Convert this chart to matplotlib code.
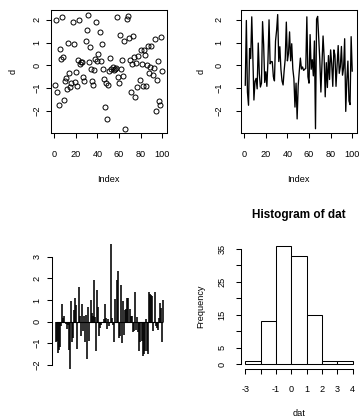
import numpy as np
import matplotlib
matplotlib.use("Agg")
import matplotlib.pyplot as plt

plt.rcParams['font.family'] = ['Liberation Sans', 'DejaVu Sans']

# ---- data ----
d = [-0.87, 1.97, -1.17, -1.75, 0.74, 0.30, 2.13, 0.38, -1.52, -0.70,
     -0.57, -1.03, 0.98, -0.35, -0.95, -0.78, 1.92, 0.92, -0.75, -0.28,
     -0.92, 0.22, 2.00, 0.07, 0.17, 0.16, -0.50, -0.68, 1.07, 1.54,
     2.23, 0.17, 0.82, -0.17, -0.68, -0.86, -0.22, 0.30, 1.90, 0.20,
     0.52, 1.47, 0.20, 0.95, -0.15, -0.58, -1.83, -0.78, -2.35, -0.88,
     -0.25, 0.32, -0.16, -0.07, -0.22, -0.17, -0.13, 2.13, -0.50, -0.78,
     1.35, -0.17, 0.25, -0.46, 1.07, -2.78, 2.03, 2.15, 1.19, 0.22,
     -1.17, 0.07, 1.29, 0.36, -1.38, 0.12, -0.97, 0.43, -0.62, 0.68,
     0.07, -0.92, 0.68, 0.45, -0.92, 0.00, 0.87, -0.35, -0.06, 0.83,
     -0.43, -0.12, 1.17, -2.02, -0.65, 0.19, -1.56, -1.72, 1.26, -0.25]

dat = [-0.95, -0.9, -1.45, -1.3, -1.2, -0.2, 0.8, 0.15, 0.25, -0.1,
       -0.35, -0.15, -1.3, -2.2, 0.95, -0.97, -0.75, 0.55, 1.1, 0.75,
       -1.25, 1.6, 0.25, -0.65, 0.8, -0.45, 0.25, -0.96, 0.3, -1.75,
       0.7, -0.9, 0.98, 0.4, 0.25, 1.95, 0.2, -1.35, 1.45, 0.7,
       -0.65, -0.3, -0.15, -0.05, 0.1, 0.8, 0.15, -0.35, 0.1, -0.2,
       -0.05, 3.6, 0.15, -0.15, -0.95, 1.05, 1.95, 2.35, -0.75, -0.65,
       1.7, -0.98, 0.97, -0.6, 0.55, 0.6, 1.1, 1.1, 0.6, 0.25,
       0.25, -0.5, -0.45, 1.35, -0.4, 0.2, -0.5, -1.35, -0.95, -0.9,
       -1.6, -1.5, -1.35, 0.1, -1.35, -1.5, 1.35, 1.3, 1.25, 1.2,
       -0.45, 1.35, -0.2, -0.3, -0.4, 0.15, 0.85, 0.65, -0.95, 0.98]

idx_ticks = [0, 20, 40, 60, 80, 100]
d_ticks = [-2, -1, 0, 1, 2]
dat_ticks = [-2, -1, 0, 1, 2, 3]
hist_breaks = [-3, -2, -1, 0, 1, 2, 3, 4]
hist_xlabels = ['-3', '', '-1', '0', '1', '2', '3', '4']
freq_ticks = [0, 5, 10, 15, 20, 25, 30, 35]
freq_labels = ['0', '5', '', '15', '', '25', '', '35']

W, H = 359, 418
fig = plt.figure(figsize=(W / 100, H / 100), dpi=100)
FS = 6.6
LW = 0.75


def axes_px(x0, y0, x1, y1):
    return fig.add_axes([x0 / W, 1 - y1 / H, (x1 - x0) / W, (y1 - y0) / H])


def rlim(v):
    lo, hi = min(v), max(v)
    r = hi - lo
    return lo - 0.04 * r, hi + 0.04 * r


def style(ax, ypad, xpad):
    for s in ax.spines.values():
        s.set_linewidth(LW)
    ax.tick_params(length=3.6, width=LW, labelsize=FS, direction='out')
    ax.tick_params(axis='y', labelrotation=90, pad=ypad)
    ax.tick_params(axis='x', pad=xpad)
    for lab in ax.get_yticklabels():
        lab.set_va('center')


n = len(d)
x = np.arange(1, n + 1)
xl = (1 - 0.04 * (n - 1), n + 0.04 * (n - 1))

# Panel 1: scatter
ax1 = axes_px(51, 10, 166.5, 133.3)
ax1.plot(x, d, 'o', mfc='none', mec='black', ms=3.6, mew=0.7)
ax1.set_xlim(*xl)
ax1.set_ylim(*rlim(d))
ax1.set_xticks(idx_ticks)
ax1.set_yticks(d_ticks)
style(ax1, 3.5, 8.5)
ax1.set_xlabel('Index', fontsize=FS, va='center')
ax1.set_ylabel('d', fontsize=FS, va='center')
ax1.xaxis.set_label_coords(0.5, -46 / 123.3)
ax1.yaxis.set_label_coords(-38 / 115.5, 0.5)

# Panel 2: line
ax2 = axes_px(241, 10, 356.5, 133.3)
ax2.plot(x, d, '-', color='black', lw=0.95)
ax2.set_xlim(*xl)
ax2.set_ylim(*rlim(d))
ax2.set_xticks(idx_ticks)
ax2.set_yticks(d_ticks)
style(ax2, 9.2, 8.5)
ax2.set_xlabel('Index', fontsize=FS, va='center')
ax2.set_ylabel('d', fontsize=FS, va='center')
ax2.xaxis.set_label_coords(0.5, -46 / 123.3)
ax2.yaxis.set_label_coords(-40 / 115.5, 0.5)

# Panel 3: type="h"
m = len(dat)
xd = np.arange(1, m + 1)
ax3 = axes_px(51.5, 239, 167.5, 374)
ax3.vlines(xd, 0, dat, color='black', lw=1.15)
ax3.hlines(0, xd[0], xd[-1], color='black', lw=0.8)
ax3.set_xlim(1 - 0.04 * (m - 1), m + 0.04 * (m - 1))
ax3.set_ylim(*rlim(dat))
ax3.set_yticks(dat_ticks)
ax3.set_xticks([])
for s in ['top', 'right', 'bottom']:
    ax3.spines[s].set_visible(False)
ax3.spines['left'].set_bounds(dat_ticks[0], dat_ticks[-1])
style(ax3, 3.5, 8.5)

# Panel 4: histogram
ax4 = axes_px(241, 241, 357, 369)
ax4.hist(dat, bins=hist_breaks, facecolor='white', edgecolor='black', linewidth=0.75)
ax4.set_xlim(hist_breaks[0] - 0.04 * (hist_breaks[-1] - hist_breaks[0]),
             hist_breaks[-1] + 0.04 * (hist_breaks[-1] - hist_breaks[0]))
counts, _ = np.histogram(dat, bins=hist_breaks)
ax4.set_ylim(-0.04 * counts.max(), counts.max() * 1.04)
ax4.set_xticks(hist_breaks)
ax4.set_xticklabels(hist_xlabels)
ax4.set_yticks(freq_ticks)
ax4.set_yticklabels(freq_labels)
for s in ['top', 'right']:
    ax4.spines[s].set_visible(False)
ax4.spines['left'].set_bounds(freq_ticks[0], freq_ticks[-1])
ax4.spines['bottom'].set_bounds(hist_breaks[0], hist_breaks[-1])
style(ax4, 7.0, 7.9)
ax4.set_xlabel('dat', fontsize=FS, va='center')
ax4.set_ylabel('Frequency', fontsize=FS, va='center')
ax4.xaxis.set_label_coords(0.5, -44 / 128)
ax4.yaxis.set_label_coords(-40.5 / 116, 0.487)
ax4.set_title('Histogram of dat', fontsize=8.5, fontweight='bold', y=1 + 18 / 128, va='center')

fig.savefig('out.png', dpi=100)
